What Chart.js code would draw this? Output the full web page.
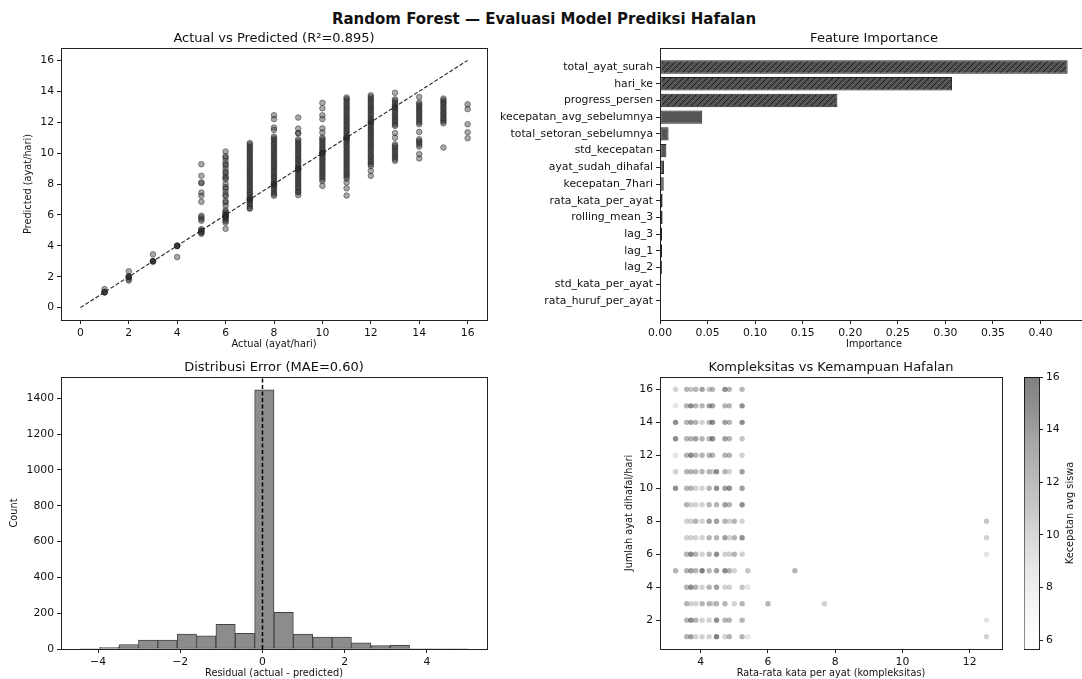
<!DOCTYPE html>
<html>
<head>
<meta charset="utf-8">
<title>Random Forest — Evaluasi Model Prediksi Hafalan</title>
<script src="https://cdn.jsdelivr.net/npm/chart.js@4.4.1/dist/chart.umd.min.js"></script>
<style>
  html, body { margin: 0; padding: 0; background: #fff; overflow: hidden; }
  body { width: 1082px; height: 679px; position: relative; font-family: 'DejaVu Sans', sans-serif; }
  .panel { position: absolute; }
  .panel canvas { display: block; }
  #suptitle { position: absolute; left: 3px; top: 10px; width: 1082px; text-align: center;
              font-weight: bold; font-size: 15px; line-height: 18px; color: #111; }
</style>
</head>
<body>
<div id="suptitle">Random Forest — Evaluasi Model Prediksi Hafalan</div>
<div class="panel"><canvas id="actualChart"></canvas></div>
<div class="panel"><canvas id="importanceChart"></canvas></div>
<div class="panel"><canvas id="residualChart"></canvas></div>
<div class="panel"><canvas id="complexityChart"></canvas></div>
<div class="panel"><canvas id="colorbarChart"></canvas></div>
<script>
// ---- data: actual vs predicted (one list of predictions per actual value)
const actualVals = [1, 2, 3, 4, 5, 6, 7, 8, 9, 10, 11, 12, 13, 14, 15, 16];
const predictedByActual = [
    [1.0, 1.0, 1.02, 0.98, 1.2],
    [2.0, 2.0, 1.97, 2.03, 2.35, 1.75, 1.85],
    [3.0, 3.0, 3.02, 2.98, 3.45],
    [4.0, 4.0, 4.02, 3.98, 3.27],
    [9.28, 8.53, 8.1, 8.05, 7.45, 7.24, 6.85, 5.94, 5.85, 5.73, 5.62, 5.08, 5.0, 4.95, 4.9, 4.85, 4.78],
    [10.1, 9.8, 9.7, 9.5, 9.3, 9.2, 9.0, 8.8, 8.7, 8.5, 8.4, 8.3, 8.0, 7.8, 7.7, 7.5, 7.3, 7.2, 6.9, 6.8, 6.6, 6.3, 6.2, 6.1, 6.0, 6.0, 5.95, 5.9, 5.85, 5.8, 5.7, 5.6, 5.5, 5.1],
    [10.65, 10.55, 10.42, 10.3, 10.2, 10.08, 9.95, 9.85, 9.72, 9.6, 9.5, 9.38, 9.25, 9.15, 9.02, 8.9, 8.8, 8.68, 8.55, 8.45, 8.32, 8.2, 8.1, 7.98, 7.85, 7.75, 7.62, 7.5, 7.4, 7.28, 7.15, 7.05, 7.0, 6.98, 6.92, 6.8, 6.7, 6.58, 6.45, 6.4],
    [12.45, 12.2, 11.65, 11.5, 11.07, 10.95, 10.85, 10.72, 10.6, 10.5, 10.38, 10.25, 10.15, 10.02, 9.9, 9.8, 9.68, 9.55, 9.45, 9.32, 9.2, 9.1, 8.98, 8.85, 8.75, 8.62, 8.5, 8.4, 8.28, 8.15, 8.05, 8.0, 7.98, 7.92, 7.8, 7.7, 7.58, 7.45, 7.35, 7.24],
    [12.3, 11.58, 11.3, 11.28, 10.9, 10.78, 10.65, 10.55, 10.42, 10.3, 10.2, 10.08, 9.95, 9.85, 9.72, 9.6, 9.5, 9.38, 9.25, 9.15, 9.02, 9.0, 8.98, 8.9, 8.8, 8.68, 8.55, 8.45, 8.32, 8.2, 8.1, 7.98, 7.85, 7.75, 7.62, 7.5, 7.45, 7.28],
    [13.25, 12.9, 12.45, 12.2, 11.6, 11.33, 11.0, 10.9, 10.78, 10.65, 10.55, 10.42, 10.3, 10.2, 10.08, 10.0, 9.98, 9.95, 9.85, 9.72, 9.6, 9.5, 9.38, 9.25, 9.15, 9.02, 8.9, 8.8, 8.68, 8.55, 8.45, 8.32, 8.2, 7.88],
    [13.6, 13.5, 13.38, 13.25, 13.15, 13.02, 12.9, 12.8, 12.68, 12.55, 12.45, 12.32, 12.2, 12.1, 11.98, 11.85, 11.75, 11.62, 11.5, 11.4, 11.28, 11.15, 11.05, 11.0, 10.98, 10.92, 10.8, 10.7, 10.58, 10.45, 10.35, 10.22, 10.1, 10.0, 9.88, 9.75, 9.65, 9.52, 9.4, 9.3, 9.18, 9.05, 8.95, 8.82, 8.7, 8.6, 8.48, 8.35, 8.1, 7.72, 7.25],
    [13.74, 13.62, 13.5, 13.38, 13.25, 13.15, 13.02, 12.9, 12.8, 12.68, 12.55, 12.45, 12.32, 12.2, 12.1, 12.0, 11.98, 11.85, 11.75, 11.62, 11.5, 11.4, 11.28, 11.15, 11.05, 10.92, 10.8, 10.7, 10.58, 10.45, 10.35, 10.22, 10.1, 9.98, 9.85, 9.75, 9.62, 9.5, 9.4, 9.28, 9.17, 8.85, 8.53],
    [13.9, 13.48, 13.38, 13.25, 13.15, 13.02, 13.0, 12.9, 12.8, 12.68, 12.55, 12.45, 12.32, 12.2, 12.1, 11.98, 11.85, 11.76, 11.3, 11.0, 10.57, 10.45, 10.35, 10.22, 10.1, 9.98, 9.85, 9.75, 9.62, 9.5],
    [13.63, 13.27, 13.15, 13.05, 12.92, 12.8, 12.7, 12.58, 12.45, 12.35, 12.22, 12.1, 11.98, 11.87, 11.37, 10.9, 10.78, 10.68, 10.55, 10.42, 9.93, 9.65],
    [13.53, 13.42, 13.3, 13.2, 13.08, 12.95, 12.85, 12.72, 12.6, 12.5, 12.38, 12.25, 12.15, 12.05, 11.93, 10.36],
    [13.15, 12.85, 11.87, 11.35, 10.96]
];
const perfectLine = [0, 16];
const actualTicks = [0, 2, 4, 6, 8, 10, 12, 14, 16];

// ---- data: feature importance (top to bottom)
const featureNames = ['total_ayat_surah', 'hari_ke', 'progress_persen', 'kecepatan_avg_sebelumnya',
    'total_setoran_sebelumnya', 'std_kecepatan', 'ayat_sudah_dihafal', 'kecepatan_7hari',
    'rata_kata_per_ayat', 'rolling_mean_3', 'lag_3', 'lag_1', 'lag_2', 'std_kata_per_ayat', 'rata_huruf_per_ayat'];
const importances = [0.4285, 0.307, 0.1865, 0.0444, 0.009, 0.0067, 0.0043, 0.0039,
    0.0027, 0.0027, 0.0021, 0.0021, 0.002, 0.0012, 0.0008];
const importanceTicks = [0, 0.05, 0.10, 0.15, 0.20, 0.25, 0.30, 0.35, 0.40];
const HATCHED_TOP = 3;

// ---- data: residual histogram (outer bins hold too few to see)
const residualBinStart = -4.43;
const residualBinWidth = 0.471;
const residualCounts = [0, 9, 25, 50, 50, 84, 73, 138, 88, 1447, 205, 84, 67, 67, 35, 19, 20, 0, 0, 0];
const residualTicks = [-4, -2, 0, 2, 4];
const countTicks = [0, 200, 400, 600, 800, 1000, 1200, 1400];

// ---- data: complexity vs ability  [rata-rata kata per ayat, ayat/hari, kecepatan avg siswa]
const kompleksitasPoints = [
    [3.25,16,10.3],[3.58,16,12.4],[3.71,16,11.2],[3.85,16,12.4],[4.04,16,13.9],[4.25,16,11.2],[4.35,16,12.4],[4.72,16,15.0],[4.85,16,12.4],[5.23,16,12.4],
    [3.25,15,9.0],[3.58,15,12.4],[3.71,15,15.0],[3.85,15,12.4],[4.04,15,12.4],[4.25,15,13.9],[4.35,15,13.9],[4.72,15,12.4],[4.85,15,12.4],[5.23,15,15.0],
    [3.25,14,15.0],[3.58,14,12.4],[3.71,14,13.9],[3.85,14,12.4],[4.04,14,10.3],[4.25,14,12.4],[4.35,14,15.0],[4.72,14,13.9],[4.85,14,12.4],[5.23,14,15.0],
    [3.25,13,15.0],[3.58,13,12.4],[3.71,13,12.4],[3.85,13,13.9],[4.04,13,12.4],[4.25,13,12.4],[4.35,13,15.0],[4.72,13,13.9],[4.85,13,12.4],[5.23,13,11.2],
    [3.25,12,9.0],[3.58,12,12.4],[3.71,12,15.0],[3.85,12,12.4],[4.04,12,12.4],[4.25,12,12.4],[4.35,12,12.4],[4.72,12,12.4],[4.85,12,12.4],[5.23,12,10.3],
    [3.25,11,10.3],[3.58,11,12.4],[3.71,11,12.4],[3.85,11,12.4],[4.04,11,12.4],[4.25,11,12.4],[4.35,11,10.3],[4.47,11,15.0],[4.72,11,12.4],[4.85,11,10.3],[5.23,11,13.9],
    [3.25,10,15.0],[3.58,10,12.4],[3.71,10,12.4],[3.85,10,10.3],[4.04,10,10.3],[4.25,10,12.4],[4.47,10,15.0],[4.72,10,13.9],[4.85,10,15.0],[5.23,10,13.9],
    [3.58,9,12.4],[3.71,9,10.3],[3.85,9,10.3],[4.04,9,10.3],[4.25,9,12.4],[4.47,9,12.4],[4.72,9,13.9],[4.85,9,12.4],[5.23,9,15.0],
    [3.58,8,10.3],[3.71,8,10.3],[3.85,8,12.4],[4.04,8,10.3],[4.25,8,13.9],[4.47,8,13.9],[4.72,8,12.4],[4.85,8,10.3],[5.0,8,12.4],[5.23,8,10.3],[12.5,8,11.2],
    [3.58,7,10.3],[3.71,7,10.3],[3.85,7,10.3],[4.04,7,10.3],[4.25,7,12.4],[4.47,7,12.4],[4.72,7,13.9],[4.85,7,10.3],[5.0,7,12.4],[5.23,7,15.0],[12.5,7,10.3],
    [3.58,6,12.4],[3.71,6,15.0],[3.85,6,12.4],[4.04,6,10.3],[4.25,6,12.4],[4.47,6,15.0],[4.72,6,10.3],[4.85,6,10.3],[5.0,6,12.4],[5.23,6,10.3],[12.5,6,9.0],
    [3.25,5,12.4],[3.58,5,12.4],[3.71,5,13.9],[3.85,5,12.4],[4.04,5,16.0],[4.25,5,12.4],[4.47,5,13.9],[4.72,5,15.0],[4.85,5,12.4],[5.0,5,10.3],[5.4,5,11.2],[6.8,5,12.4],
    [3.58,4,12.4],[3.71,4,15.0],[3.85,4,12.4],[4.04,4,10.3],[4.25,4,12.4],[4.47,4,13.9],[4.72,4,10.3],[4.85,4,10.3],[5.23,4,11.2],[5.4,4,9.0],
    [3.58,3,12.4],[3.71,3,10.3],[3.85,3,10.3],[4.04,3,12.4],[4.25,3,12.4],[4.35,3,10.3],[4.47,3,12.4],[4.72,3,12.4],[5.0,3,10.3],[5.23,3,12.4],[6.0,3,12.4],[7.68,3,10.3],
    [3.58,2,12.4],[3.71,2,15.0],[3.85,2,12.4],[4.04,2,10.3],[4.25,2,10.3],[4.47,2,15.0],[4.72,2,12.4],[4.85,2,12.4],[5.23,2,12.4],[12.5,2,9.0],
    [3.58,1,12.4],[3.71,1,13.9],[3.85,1,10.3],[4.04,1,10.3],[4.25,1,10.3],[4.47,1,16.0],[4.72,1,10.3],[4.85,1,12.4],[5.23,1,12.4],[5.4,1,9.0],[12.5,1,10.3]
];
const speedRange = [5.66, 16.0];
const kataTicks = [4, 6, 8, 10, 12];
const ayatTicks = [2, 4, 6, 8, 10, 12, 14, 16];
const speedTicks = [6, 8, 10, 12, 14, 16];

// ---- styling
const FONT = "'DejaVu Sans', sans-serif";
const TEXT = '#111';
const AXIS = '#222';
const TICK_FONT = { family: FONT, size: 10.8 };
const LABEL_FONT = { family: FONT, size: 9.75 };
const TITLE_FONT = { family: FONT, size: 13, weight: 'normal' };
const GREYS = [255, 240, 217, 189, 150, 115, 82, 37, 0];
const POINT_ALPHA = 0.5;

Chart.defaults.font.family = FONT;

// matplotlib style: margins of 5% around the data
function padRange(lo, hi) {
    const d = (hi - lo) * 0.05;
    return [lo - d, hi + d];
}

function numFmt(v) {
    return v < 0 ? '\u2212' + Math.abs(v) : String(v);
}

function greys(t, alpha) {
    t = Math.min(1, Math.max(0, t));
    const p = t * 8;
    const i = Math.min(7, Math.floor(p));
    const g = Math.round(GREYS[i] + (GREYS[i + 1] - GREYS[i]) * (p - i));
    return `rgba(${g},${g},${g},${alpha})`;
}

function hatchPattern(fill, line, step) {
    const c = document.createElement('canvas');
    c.width = c.height = step;
    const g = c.getContext('2d');
    g.fillStyle = fill;
    g.fillRect(0, 0, step, step);
    g.strokeStyle = line;
    g.lineWidth = 1;
    g.beginPath();
    g.moveTo(0, step); g.lineTo(step, 0);
    g.moveTo(-step / 2, step / 2); g.lineTo(step / 2, -step / 2);
    g.moveTo(step / 2, step * 1.5); g.lineTo(step * 1.5, step / 2);
    g.stroke();
    return g.createPattern(c, 'repeat');
}

// full box around every plot area (top/right spines)
const framePlugin = {
    id: 'frame',
    beforeDatasetsDraw(chart) {
        const { ctx, chartArea: a } = chart;
        const al = p => Math.round(p - 0.5) + 0.5;
        ctx.save();
        ctx.strokeStyle = AXIS;
        ctx.lineWidth = 1;
        ctx.strokeRect(al(a.left), al(a.top), al(a.right) - al(a.left), al(a.bottom) - al(a.top));
        ctx.restore();
    }
};
Chart.register(framePlugin);

// colorbar label reads bottom to top, like matplotlib
const colorbarLabel = {
    id: 'colorbarLabel',
    afterDraw(chart, args, opts) {
        const { ctx, chartArea: a } = chart;
        ctx.save();
        ctx.translate(a.right + opts.offset, (a.top + a.bottom) / 2);
        ctx.rotate(-Math.PI / 2);
        ctx.font = `${LABEL_FONT.size}px ${FONT}`;
        ctx.fillStyle = TEXT;
        ctx.textAlign = 'center';
        ctx.textBaseline = 'middle';
        ctx.fillText(opts.text, 0, 0);
        ctx.restore();
    }
};

function placePanel(id, plot, m) {
    const canvas = document.getElementById(id);
    const w = m.left + plot.w + m.right;
    const h = m.top + plot.h + m.bottom;
    canvas.parentElement.style.left = (plot.x - m.left) + 'px';
    canvas.parentElement.style.top = (plot.y - m.top) + 'px';
    canvas.width = w;
    canvas.height = h;
    canvas.style.width = w + 'px';
    canvas.style.height = h + 'px';
    return canvas;
}

function axis(pos, range, ticks, size, title, fmt, extra) {
    return Object.assign({
        type: 'linear',
        position: pos,
        min: range[0],
        max: range[1],
        bounds: 'data',
        offset: false,
        afterBuildTicks: s => { s.ticks = ticks.map(v => ({ value: v })); },
        afterFit: s => {
            if (pos === 'bottom' || pos === 'top') s.height = size; else s.width = size;
        },
        ticks: { font: TICK_FONT, color: TEXT, padding: 3, maxRotation: 0, autoSkip: false, callback: fmt || numFmt },
        grid: { drawOnChartArea: false, drawTicks: true, tickLength: 4, color: AXIS, offset: false },
        border: { display: true, color: AXIS, width: 1 },
        title: title
            ? { display: true, text: title, font: LABEL_FONT, color: TEXT, padding: { top: 0, bottom: 0 } }
            : { display: false }
    }, extra || {});
}

function baseOptions(title, m) {
    return {
        responsive: false,
        animation: false,
        devicePixelRatio: 1,
        layout: { padding: { left: 0, top: 0, right: m.right, bottom: 0 } },
        plugins: {
            legend: { display: false },
            tooltip: { enabled: false },
            title: {
                display: !!title, text: title, fullSize: false, font: TITLE_FONT, color: TEXT,
                padding: { top: 0, bottom: m.top - TITLE_FONT.size * 1.2 }
            }
        }
    };
}

// ---------- Actual vs Predicted
(function () {
    const m = { left: 38, top: 17, right: 12, bottom: 30 };
    const canvas = placePanel('actualChart', { x: 61, y: 48, w: 426, h: 272 }, m);
    const points = [];
    actualVals.forEach((a, i) => predictedByActual[i].forEach(p => points.push({ x: a, y: p })));
    const range = padRange(perfectLine[0], perfectLine[1]);
    const opts = baseOptions('Actual vs Predicted (R\u00B2=0.895)', m);
    opts.scales = {
        x: axis('bottom', range, actualTicks, m.bottom, 'Actual (ayat/hari)'),
        y: axis('left', range, actualTicks, m.left, 'Predicted (ayat/hari)')
    };
    new Chart(canvas, {
        type: 'scatter',
        data: {
            datasets: [{
                data: [{ x: perfectLine[0], y: perfectLine[0] }, { x: perfectLine[1], y: perfectLine[1] }],
                showLine: true, borderColor: '#222', borderWidth: 1.1, borderDash: [4, 2],
                pointRadius: 0, order: 0
            }, {
                data: points,
                pointRadius: 2.8,
                backgroundColor: 'rgba(40,40,40,0.4)',
                borderColor: 'rgba(40,40,40,0.5)',
                borderWidth: 1,
                order: 1
            }]
        },
        options: opts
    });
})();

// ---------- Feature Importance
(function () {
    const m = { left: 170, top: 17, right: 20, bottom: 30 };
    const canvas = placePanel('importanceChart', { x: 660, y: 48, w: 428, h: 272 }, m);
    const hatch = hatchPattern('#555555', '#1a1a1a', 6);
    const opts = baseOptions('Feature Importance', m);
    opts.indexAxis = 'y';
    opts.scales = {
        x: axis('bottom', [0, Math.max(...importances) * 1.05], importanceTicks, m.bottom, 'Importance', v => v.toFixed(2)),
        y: axis('left', padRange(-0.4, featureNames.length - 0.6), featureNames.map((n, i) => i), m.left, null,
            v => featureNames[v], { reverse: true })
    };
    new Chart(canvas, {
        type: 'bar',
        data: {
            datasets: [{
                data: importances.map((v, i) => ({ x: v, y: i })),
                backgroundColor: importances.map((v, i) => i < HATCHED_TOP ? hatch : '#555555'),
                borderColor: '#222',
                borderWidth: 1,
                borderSkipped: false,
                barPercentage: 0.8,
                categoryPercentage: 1
            }]
        },
        options: opts
    });
})();

// ---------- Distribusi Error
(function () {
    const m = { left: 52, top: 17, right: 12, bottom: 30 };
    const canvas = placePanel('residualChart', { x: 61, y: 377, w: 426, h: 272 }, m);
    const yMax = Math.max(...residualCounts) * 1.05;
    const xRange = padRange(residualBinStart, residualBinStart + residualCounts.length * residualBinWidth);
    const opts = baseOptions('Distribusi Error (MAE=0.60)', m);
    opts.scales = {
        x: axis('bottom', xRange, residualTicks, m.bottom, 'Residual (actual - predicted)'),
        y: axis('left', [0, yMax], countTicks, m.left, 'Count')
    };
    new Chart(canvas, {
        type: 'bar',
        data: {
            datasets: [{
                type: 'line',
                data: [{ x: 0, y: 0 }, { x: 0, y: yMax }],
                borderColor: '#000', borderWidth: 1.5, borderDash: [4, 2.5],
                pointRadius: 0, order: 0
            }, {
                data: residualCounts.map((c, i) => ({ x: residualBinStart + (i + 0.5) * residualBinWidth, y: c })),
                backgroundColor: '#8c8c8c',
                borderColor: '#444',
                borderWidth: ctx => (ctx.raw && ctx.raw.y > 0 ? 1 : 0),
                borderSkipped: false,
                barPercentage: 1,
                categoryPercentage: 1,
                order: 1
            }]
        },
        options: opts
    });
})();

// ---------- Kompleksitas vs Kemampuan Hafalan
(function () {
    const m = { left: 36, top: 17, right: 10, bottom: 30 };
    const canvas = placePanel('complexityChart', { x: 660, y: 377, w: 342, h: 272 }, m);
    const xs = kompleksitasPoints.map(p => p[0]);
    const ys = kompleksitasPoints.map(p => p[1]);
    const span = speedRange[1] - speedRange[0];
    const opts = baseOptions('Kompleksitas vs Kemampuan Hafalan', m);
    opts.scales = {
        x: axis('bottom', padRange(Math.min(...xs), Math.max(...xs)), kataTicks, m.bottom, 'Rata-rata kata per ayat (kompleksitas)'),
        y: axis('left', padRange(Math.min(...ys), Math.max(...ys)), ayatTicks, m.left, 'Jumlah ayat dihafal/hari')
    };
    new Chart(canvas, {
        type: 'scatter',
        data: {
            datasets: [{
                data: kompleksitasPoints.map(p => ({ x: p[0], y: p[1] })),
                backgroundColor: kompleksitasPoints.map(p => greys((p[2] - speedRange[0]) / span, POINT_ALPHA)),
                pointRadius: 2.7,
                borderWidth: 0
            }]
        },
        options: opts
    });
})();

// ---------- colorbar
(function () {
    const m = { left: 4, top: 12, right: 80, bottom: 12 };
    const canvas = placePanel('colorbarChart', { x: 1024, y: 377, w: 15, h: 272 }, m);
    new Chart(canvas, {
        type: 'bar',
        data: {
            labels: [''],
            datasets: [{
                data: [[speedRange[0], speedRange[1]]],
                backgroundColor: ctx => {
                    const a = ctx.chart.chartArea;
                    if (!a) return '#ccc';
                    const g = ctx.chart.ctx.createLinearGradient(0, a.bottom, 0, a.top);
                    for (let i = 0; i <= 16; i++) g.addColorStop(i / 16, greys(i / 16, POINT_ALPHA));
                    return g;
                },
                borderWidth: 0,
                barPercentage: 1,
                categoryPercentage: 1
            }]
        },
        options: {
            responsive: false,
            animation: false,
            devicePixelRatio: 1,
            layout: { padding: { left: m.left, top: m.top, right: m.right - 40, bottom: m.bottom } },
            plugins: {
                legend: { display: false },
                tooltip: { enabled: false },
                colorbarLabel: { text: 'Kecepatan avg siswa', offset: 31 }
            },
            scales: {
                x: { display: false },
                y: axis('right', speedRange, speedTicks, 40, null)
            }
        },
        plugins: [colorbarLabel]
    });
})();
</script>
</body>
</html>
